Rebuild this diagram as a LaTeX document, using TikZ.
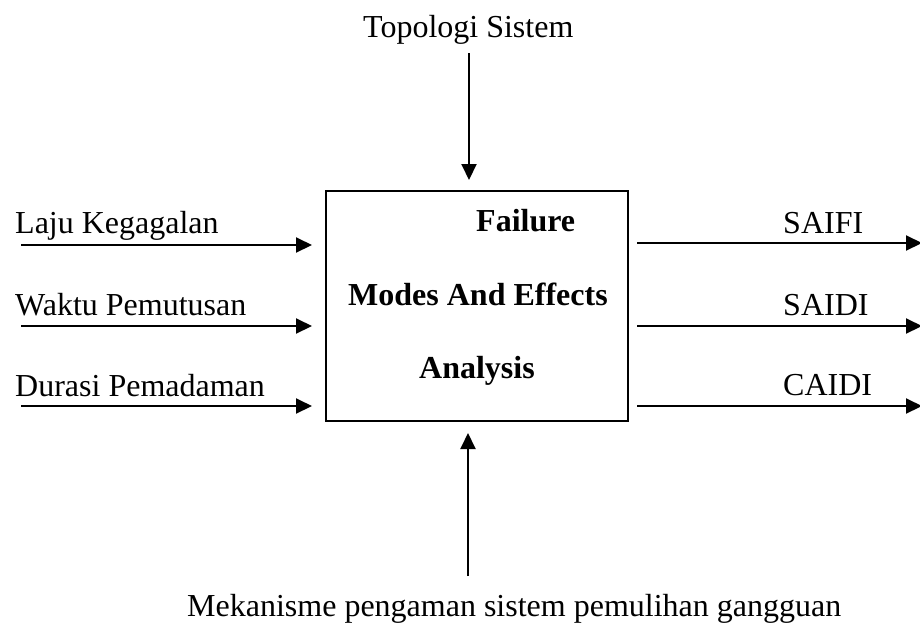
\documentclass[tikz,border=0pt]{standalone}
\usepackage{fontspec}
\setmainfont{Liberation Serif}
\usetikzlibrary{arrows.meta}
\begin{document}
\begin{tikzpicture}[x=1pt,y=-1pt,
  lbl/.style={inner sep=0pt, anchor=base west, font=\fontsize{32}{38}\selectfont},
  blbl/.style={lbl, font=\fontsize{32}{38}\selectfont\bfseries},
  arr/.style={line width=2pt, -{Triangle[length=16pt,width=15pt]}},
  boxst/.style={draw, line width=1.4pt, minimum width=302pt, minimum height=230pt, inner sep=0pt}]
\useasboundingbox (0,0) rectangle (920,622);
% central box
\node[boxst] (fmea) at (477,306) {};
\node[blbl] (t1) at (476,231) {Failure};
\node[blbl] (t2) at (348,305) {Modes And Effects};
\node[blbl] (t3) at (419,378) {Analysis};
% top and bottom labels
\node[lbl] (top) at (363,37) {Topologi Sistem};
\node[lbl] (bot) at (187,616) {Mekanisme pengaman sistem pemulihan gangguan};
% left labels
\node[lbl] (in1) at (15,233) {Laju Kegagalan};
\node[lbl] (in2) at (15,315) {Waktu Pemutusan};
\node[lbl] (in3) at (15,396) {Durasi Pemadaman};
% right labels
\node[lbl] (out1) at (783,233) {SAIFI};
\node[lbl] (out2) at (783,315) {SAIDI};
\node[lbl] (out3) at (783,395) {CAIDI};
% connector ends
\coordinate (ts) at (469,53);   \coordinate (te) at (469,180);
\coordinate (bs) at (468,576);  \coordinate (be) at (468,433);
\coordinate (l1s) at (21,245);  \coordinate (l1e) at (312,245);
\coordinate (l2s) at (21,326);  \coordinate (l2e) at (312,326);
\coordinate (l3s) at (21,406);  \coordinate (l3e) at (312,406);
\coordinate (r1s) at (637,243); \coordinate (r1e) at (922,243);
\coordinate (r2s) at (637,326); \coordinate (r2e) at (922,326);
\coordinate (r3s) at (637,406); \coordinate (r3e) at (922,406);
% connectors
\draw[arr] (ts) -- (te);
\draw[arr] (bs) -- (be);
\draw[arr] (l1s) -- (l1e);
\draw[arr] (l2s) -- (l2e);
\draw[arr] (l3s) -- (l3e);
\draw[arr] (r1s) -- (r1e);
\draw[arr] (r2s) -- (r2e);
\draw[arr] (r3s) -- (r3e);
\end{tikzpicture}
\end{document}
